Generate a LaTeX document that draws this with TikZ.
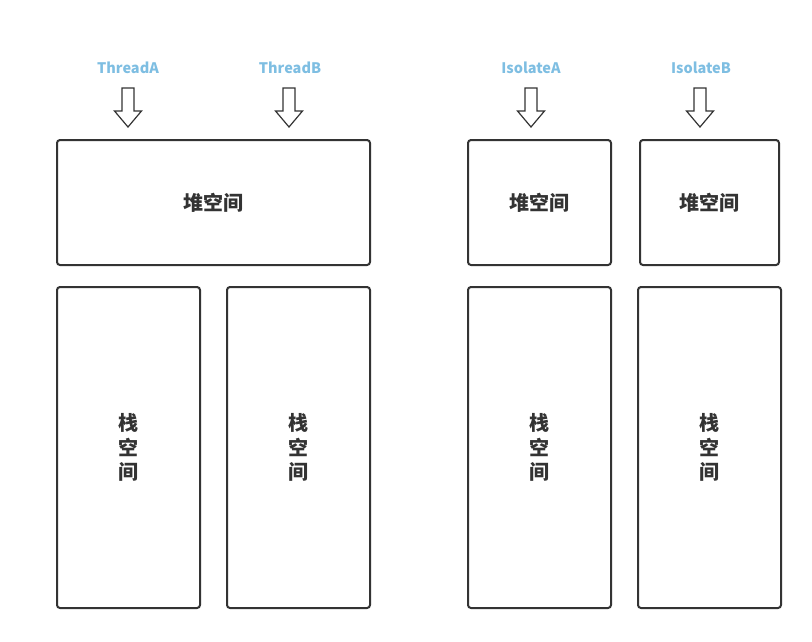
\documentclass[tikz,border=0pt]{standalone}
\usepackage{fontspec}
\setmainfont{Noto Sans CJK SC}
\usepackage{tikz}

\definecolor{labelblue}{RGB}{126,190,226}
\definecolor{boxgray}{RGB}{51,51,51}

\tikzset{
    membox/.style={draw=boxgray,line width=2pt,rounded corners=3pt},
    memtext/.style={font=\fontsize{20}{24.5}\selectfont\bfseries,text=boxgray,align=center},
    toplabel/.style={font=\fontsize{14.5}{16}\selectfont\bfseries,text=labelblue},
    blockarrow/.style={draw=boxgray,line width=1.2pt,fill=white}
}

\begin{document}
\begin{tikzpicture}[x=1pt,y=-1pt]
        \useasboundingbox (0,0) rectangle (812,641);

        % labels
        \node[toplabel] (ta) at (128,68) {ThreadA};
        \node[toplabel] (tb) at (290,68) {ThreadB};
        \node[toplabel] (ia) at (531,68) {IsolateA};
        \node[toplabel] (ib) at (701,68) {IsolateB};

        % arrows
        \draw[blockarrow] (122,88) -- (134,88) -- (134,111) -- (141.5,111) -- (128,127) -- (114.5,111) -- (122,111) -- cycle;
        \draw[blockarrow] (283,88) -- (295,88) -- (295,111) -- (302.5,111) -- (289,127) -- (275.5,111) -- (283,111) -- cycle;
        \draw[blockarrow] (525,88) -- (537,88) -- (537,111) -- (544.5,111) -- (531,127) -- (517.5,111) -- (525,111) -- cycle;
        \draw[blockarrow] (694,88) -- (706,88) -- (706,111) -- (713.5,111) -- (700,127) -- (686.5,111) -- (694,111) -- cycle;

        % heaps
        \draw[membox] (57,140) rectangle node[memtext] (heap) {堆空间} (370,265);
        \draw[membox] (468,140) rectangle node[memtext] (heapa) {堆空间} (611,265);
        \draw[membox] (640,140) rectangle node[memtext] (heapb) {堆空间} (779,265);

        % stacks
        \draw[membox] (57,287) rectangle node[memtext] (stacka) {栈\\空\\间} (200,608);
        \draw[membox] (227,287) rectangle node[memtext] (stackb) {栈\\空\\间} (370,608);
        \draw[membox] (468,287) rectangle node[memtext] (stackc) {栈\\空\\间} (611,608);
        \draw[membox] (638,287) rectangle node[memtext] (stackd) {栈\\空\\间} (781,608);
    \end{tikzpicture}
\end{document}
